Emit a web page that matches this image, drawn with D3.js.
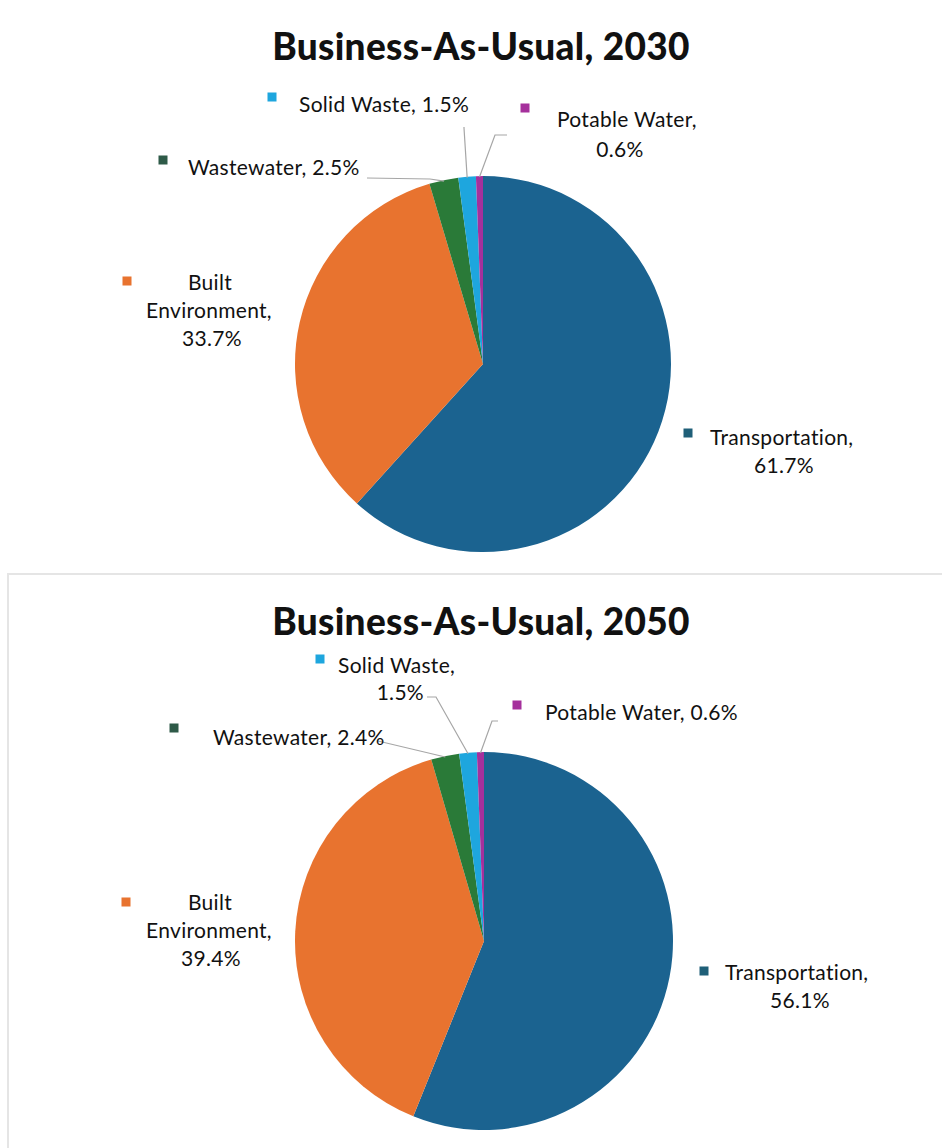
<!DOCTYPE html>
<html>
<head>
<meta charset="utf-8">
<script src="https://cdn.jsdelivr.net/npm/d3@7"></script>
<style>
body { margin: 0; background: #fff; }
text { font-family: Lato, "Open Sans", sans-serif; fill: #111; }
</style>
</head>
<body>
<script>
var W = 942, H = 1148;

// data
var categories = ["Transportation", "Built Environment", "Wastewater", "Solid Waste", "Potable Water"];
var values2030 = [61.7, 33.7, 2.5, 1.5, 0.6];
var values2050 = [56.1, 39.4, 2.4, 1.5, 0.6];
var titles = ["Business-As-Usual, 2030", "Business-As-Usual, 2050"];

var colors = ["#1b6390", "#e8732f", "#2a7a38", "#1ea6de", "#a5309c"];
var markerColors = ["#1f5f78", "#e8732f", "#2e5a48", "#1ea6de", "#a5309c"];

// label layout per chart: lines, marker pos, text anchor pos, leader start
var layouts = [
  {
    cx: 483, cy: 364, r: 188, titleY: 60,
    labels: [
      { lines: ["Transportation,", "61.7%"], mx: 688, my: 433, tx: [710, 784], ty: [445, 473], anchor: ["start", "middle"] },
      { lines: ["Built", "Environment,", "33.7%"], mx: 127, my: 281, tx: [210, 209, 212], ty: [290, 318, 346], anchor: ["middle", "middle", "middle"] },
      { lines: ["Wastewater, 2.5%"], mx: 163, my: 160, tx: [188], ty: [175], anchor: ["start"], leader: [[367, 178], [430, 179]] },
      { lines: ["Solid Waste, 1.5%"], mx: 272, my: 97, tx: [299], ty: [112], anchor: ["start"], leader: [[464, 127], [464, 128]] },
      { lines: ["Potable Water,", "0.6%"], mx: 525, my: 108, tx: [557, 620], ty: [127, 157], anchor: ["start", "middle"], leader: [[507, 135], [495, 135]] }
    ]
  },
  {
    cx: 484, cy: 941, r: 189, titleY: 635,
    labels: [
      { lines: ["Transportation,", "56.1%"], mx: 704, my: 971, tx: [725, 800], ty: [980, 1008], anchor: ["start", "middle"] },
      { lines: ["Built", "Environment,", "39.4%"], mx: 126, my: 902, tx: [210, 209, 211], ty: [910, 938, 966], anchor: ["middle", "middle", "middle"] },
      { lines: ["Wastewater, 2.4%"], mx: 174, my: 728, tx: [213], ty: [745], anchor: ["start"], leader: [[377, 741], [378, 741]] },
      { lines: ["Solid Waste,", "1.5%"], mx: 320, my: 659, tx: [338, 424], ty: [673, 700], anchor: ["start", "end"], leader: [[427, 697], [436, 697]] },
      { lines: ["Potable Water, 0.6%"], mx: 517, my: 705, tx: [545], ty: [720], anchor: ["start"], leader: [[498, 721], [492, 721]] }
    ]
  }
];

var svg = d3.select("body").append("svg").attr("width", W).attr("height", H);

// frame of the lower panel
svg.append("line").attr("x1", 7).attr("y1", 574).attr("x2", W).attr("y2", 574)
  .attr("stroke", "#dcdcdc").attr("stroke-width", 1.5);
svg.append("line").attr("x1", 8).attr("y1", 575).attr("x2", 8).attr("y2", H)
  .attr("stroke", "#dcdcdc").attr("stroke-width", 1.5);

var pie = d3.pie().sort(null).value(function(d){ return d; });

[values2030, values2050].forEach(function(vals, k){
  var L = layouts[k];
  var g = svg.append("g");

  g.append("text").attr("x", 481).attr("y", L.titleY)
    .attr("text-anchor", "middle")
    .style("font-size", "37px").style("font-weight", 900)
    .style("letter-spacing", "0.3px")
    .text(titles[k]);

  var arc = d3.arc().innerRadius(0).outerRadius(L.r);
  var arcs = pie(vals);

  g.append("g").attr("transform", "translate(" + L.cx + "," + L.cy + ")")
    .selectAll("path").data(arcs).enter().append("path")
    .attr("d", arc)
    .attr("fill", function(d, i){ return colors[i]; });

  arcs.forEach(function(a, i){
    var lab = L.labels[i];
    if (lab.leader) {
      var mid = (a.startAngle + a.endAngle) / 2;
      var ex = L.cx + Math.sin(mid) * (L.r - 1);
      var ey = L.cy - Math.cos(mid) * (L.r - 1);
      var pts = lab.leader.concat([[ex, ey]]);
      g.append("path").attr("d", d3.line()(pts))
        .attr("fill", "none").attr("stroke", "#a6a6a6").attr("stroke-width", 1.2);
    }
    g.append("rect").attr("x", lab.mx - 4.5).attr("y", lab.my - 4.5)
      .attr("width", 9).attr("height", 9).attr("fill", markerColors[i]);
    lab.lines.forEach(function(t, j){
      g.append("text").attr("x", lab.tx[j]).attr("y", lab.ty[j])
        .attr("text-anchor", lab.anchor[j])
        .style("font-size", "21px").style("letter-spacing", "0.3px")
        .text(t);
    });
  });
});
</script>
</body>
</html>
